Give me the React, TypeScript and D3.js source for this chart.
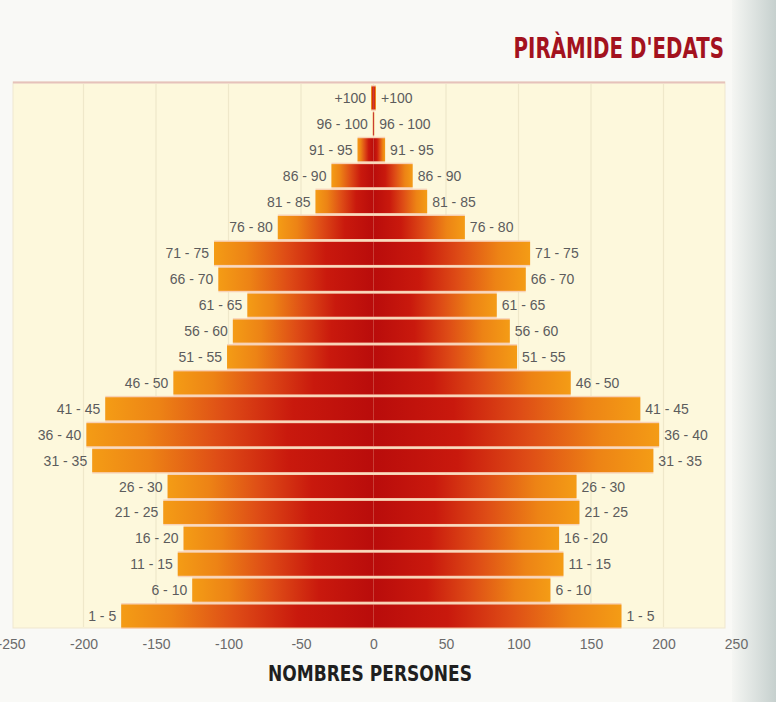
// PyramidChart.tsx
import * as d3 from "d3";
import React, { useRef, useEffect } from "react";

const W = 776;
const H = 702;

// age groups, bottom to top
const ageGroups = [
  "1 - 5", "6 - 10", "11 - 15", "16 - 20", "21 - 25", "26 - 30", "31 - 35",
  "36 - 40", "41 - 45", "46 - 50", "51 - 55", "56 - 60", "61 - 65", "66 - 70",
  "71 - 75", "76 - 80", "81 - 85", "86 - 90", "91 - 95", "96 - 100", "+100",
];
// people per group, left half of the pyramid
const leftValues = [
  174, 125, 135, 131, 145, 142, 194, 198, 185, 138, 101, 97, 87, 107,
  110, 66, 40, 29, 11, 0.5, 1.7,
];
// people per group, right half of the pyramid
const rightValues = [
  171, 122, 131, 128, 142, 140, 193, 197, 184, 136, 99, 94, 85, 105,
  108, 63, 37, 27, 8, 0.5, 1.7,
];
const tickValues = [-250, -200, -150, -100, -50, 0, 50, 100, 150, 200, 250];

function App() {
  const ref = useRef(null);

  useEffect(() => {
    const svg = d3.select(ref.current);
    svg.selectAll("*").remove();

    const x = d3.scaleLinear().domain([-250, 250]).range([11, 736]);
    const y = d3
      .scaleBand()
      .domain(ageGroups.slice().reverse())
      .range([85, 629])
      .paddingInner(0.11)
      .paddingOuter(0.055);

    const defs = svg.append("defs");
    // gradients: red at the middle, orange at the outer end
    const stops = [
      [0, "#b90c0b"],
      [0.3, "#c9190d"],
      [0.55, "#de4c16"],
      [0.8, "#ed8315"],
      [1, "#f49c15"],
    ];
    ["gRight", "gLeft"].forEach((id, k) => {
      const g = defs
        .append("linearGradient")
        .attr("id", id)
        .attr("x1", k ? 1 : 0)
        .attr("x2", k ? 0 : 1)
        .attr("y1", 0)
        .attr("y2", 0);
      stops.forEach((s) =>
        g.append("stop").attr("offset", s[0]).attr("stop-color", s[1])
      );
    });
    const gut = defs
      .append("linearGradient")
      .attr("id", "gutter")
      .attr("x1", 0)
      .attr("x2", 1);
    gut.append("stop").attr("offset", 0).attr("stop-color", "#f5f6f3");
    gut.append("stop").attr("offset", 1).attr("stop-color", "#c6d0ce");

    // page
    svg.append("rect").attr("width", W).attr("height", H).attr("fill", "#f9f9f6");
    svg
      .append("rect")
      .attr("x", 732)
      .attr("width", W - 732)
      .attr("height", H)
      .attr("fill", "url(#gutter)");

    // panel
    svg
      .append("rect")
      .attr("x", 13)
      .attr("y", 82)
      .attr("width", 712)
      .attr("height", 546)
      .attr("fill", "#fdf8dc")
      .attr("stroke", "#efe7cf")
      .attr("stroke-width", 1);
    svg
      .append("line")
      .attr("x1", 13)
      .attr("x2", 725)
      .attr("y1", 82.5)
      .attr("y2", 82.5)
      .attr("stroke", "#e6c2bb")
      .attr("stroke-width", 2);

    // grid
    svg
      .append("g")
      .selectAll("line")
      .data(tickValues.filter((t) => Math.abs(t) < 250))
      .enter()
      .append("line")
      .attr("x1", (d) => x(d))
      .attr("x2", (d) => x(d))
      .attr("y1", 84)
      .attr("y2", 627)
      .attr("stroke", "#efe8ca")
      .attr("stroke-width", 1.2);

    const rows = ageGroups.map((a, i) => ({
      age: a,
      left: leftValues[i],
      right: rightValues[i],
    }));

    // light pink seams between the bars
    const gap = (y.step() - y.bandwidth()) / 2;
    svg
      .append("g")
      .selectAll("rect")
      .data(rows)
      .enter()
      .append("rect")
      .attr("x", (d) => x(-d.left))
      .attr("y", (d) => y(d.age) - gap)
      .attr("width", (d) => x(d.right) - x(-d.left))
      .attr("height", y.bandwidth() + gap * 2)
      .attr("fill", "#f8d2b6");

    // bars
    const bars = svg.append("g");
    bars
      .selectAll("rect.l")
      .data(rows)
      .enter()
      .append("rect")
      .attr("class", "l")
      .attr("x", (d) => x(-d.left))
      .attr("y", (d) => y(d.age))
      .attr("width", (d) => x(0) - x(-d.left))
      .attr("height", y.bandwidth())
      .attr("fill", "url(#gLeft)");
    bars
      .selectAll("rect.r")
      .data(rows)
      .enter()
      .append("rect")
      .attr("class", "r")
      .attr("x", x(0))
      .attr("y", (d) => y(d.age))
      .attr("width", (d) => x(d.right) - x(0))
      .attr("height", y.bandwidth())
      .attr("fill", "url(#gRight)");

    // age labels
    const labels = svg
      .append("g")
      .attr("font-family", "'Liberation Sans', Arial, sans-serif")
      .attr("font-size", 14)
      .attr("fill", "#5c5c5c");
    labels
      .selectAll("text.l")
      .data(rows)
      .enter()
      .append("text")
      .attr("x", (d) => x(-d.left) - 5)
      .attr("y", (d) => y(d.age) + y.bandwidth() / 2 + 5)
      .attr("text-anchor", "end")
      .text((d) => d.age);
    labels
      .selectAll("text.r")
      .data(rows)
      .enter()
      .append("text")
      .attr("x", (d) => x(d.right) + 5)
      .attr("y", (d) => y(d.age) + y.bandwidth() / 2 + 5)
      .attr("text-anchor", "start")
      .text((d) => d.age);

    // x axis
    const ax = svg
      .append("g")
      .attr("transform", "translate(0,634)")
      .call(
        d3
          .axisBottom(x)
          .tickValues(tickValues)
          .tickSize(0)
          .tickPadding(5)
          .tickFormat((d) => String(d))
      );
    ax.select(".domain").remove();
    ax.selectAll("text")
      .attr("font-family", "'Liberation Sans', Arial, sans-serif")
      .attr("font-size", 14)
      .attr("fill", "#6a6a6a");

    svg
      .append("text")
      .attr("x", 370)
      .attr("y", 681)
      .attr("text-anchor", "middle")
      .attr("font-family", "'Liberation Sans Narrow', 'DejaVu Sans Condensed', Arial, sans-serif")
      .attr("font-size", 21)
      .attr("font-weight", 600)
      .attr("fill", "#1f1f1f")
      .attr("textLength", 204)
      .attr("lengthAdjust", "spacingAndGlyphs")
      .text("NOMBRES PERSONES");

    // title, squeezed horizontally like the printed condensed face
    svg
      .append("text")
      .attr("transform", "translate(724,58) scale(0.76,1)")
      .attr("text-anchor", "end")
      .attr("font-family", "'DejaVu Sans Condensed', 'Liberation Sans Narrow', sans-serif")
      .attr("font-size", 29)
      .attr("font-weight", "bold")
      .attr("fill", "#a3121e")
      .text("PIRÀMIDE D'EDATS");
  }, []);

  return (
    <div className="chart">
      <svg
        ref={ref}
        width={W}
        height={H}
        style={{ position: "absolute", left: 0, top: 0 }}
      ></svg>
    </div>
  );
}
export default App;
